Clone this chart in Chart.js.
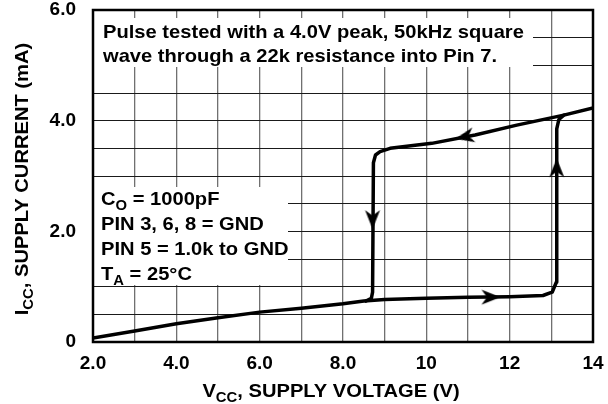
<!DOCTYPE html>
<html>
<head>
<meta charset="utf-8">
<script src="https://cdn.jsdelivr.net/npm/chart.js@4.4.1/dist/chart.umd.min.js"></script>
<style>
  html, body { margin: 0; padding: 0; background: #fff; }
  #wrap { width: 608px; height: 404px; position: relative; }
</style>
</head>
<body>
<div id="wrap"><canvas id="icc"></canvas></div>
<script>
// supply voltage (V) / supply current (mA)
// rising Vcc: along the low branch, jump up at ~13.1V, on to 14V
const forwardV = [2.0, 3.0, 4.0, 5.0, 6.0, 7.0, 8.0, 8.5, 9.0, 10.0, 11.0, 12.0, 12.8, 13.02, 13.12, 13.13, 13.18, 13.3, 14.0];
const forwardI = [0.07, 0.20, 0.33, 0.44, 0.54, 0.61, 0.69, 0.74, 0.77, 0.79, 0.81, 0.82, 0.84, 0.90, 1.08, 3.85, 4.02, 4.10, 4.23];
// falling Vcc: upper branch back to ~8.7V, then drop
const returnV = [13.3, 12.17, 11.17, 10.13, 9.13, 8.89, 8.78, 8.73, 8.71, 8.68, 8.55];
const returnI = [4.10, 3.92, 3.74, 3.59, 3.50, 3.44, 3.38, 3.24, 0.90, 0.79, 0.74];
// arrowheads on the loop
const arrowV = [10.93, 8.71, 11.54, 13.13];
const arrowI = [3.71, 2.22, 0.81, 3.14];

const xTickValues = [2, 4, 6, 8, 10, 12, 14];
const xTickLabels = ['2.0', '4.0', '6.0', '8.0', '10', '12', '14'];
const yTickValues = [0, 2, 4, 6];
const yTickLabels = ['0', '2.0', '4.0', '6.0'];

const noteTop = ['Pulse tested with a 4.0V peak, 50kHz square', 'wave through a 22k resistance into Pin 7.'];
const noteLeft = [
  [{ t: 'C' }, { t: 'O', sub: true }, { t: ' = 1000pF' }],
  [{ t: 'PIN 3, 6, 8 = GND' }],
  [{ t: 'PIN 5 = 1.0k to GND' }],
  [{ t: 'T' }, { t: 'A', sub: true }, { t: ' = 25°C' }]
];
const xTitle = [{ t: 'V' }, { t: 'CC', sub: true }, { t: ', SUPPLY VOLTAGE (V)' }];
const yTitle = [{ t: 'I' }, { t: 'CC', sub: true }, { t: ', SUPPLY CURRENT (mA)' }];

const FAMILY = '"Liberation Sans", Arial, Helvetica, sans-serif';
const SX = 1.06; // reference lettering is a touch wider than Arial

function toPts(xs, ys) {
  return xs.map((x, i) => ({ x: x, y: ys[i] }));
}

// barbed arrowhead pointing up, used as point style and rotated per point
function makeArrow() {
  const c = document.createElement('canvas');
  c.width = 18; c.height = 20;
  const g = c.getContext('2d');
  g.fillStyle = '#000';
  g.beginPath();
  g.moveTo(9, 0);
  g.lineTo(16.5, 19);
  g.lineTo(9, 13.5);
  g.lineTo(1.5, 19);
  g.closePath();
  g.fill();
  return c;
}

function richWidth(ctx, parts) {
  let w = 0;
  parts.forEach(p => {
    ctx.font = 'bold ' + (p.sub ? 14 : 19) + 'px ' + FAMILY;
    w += ctx.measureText(p.t).width;
  });
  return w;
}

function drawRich(ctx, parts, x, y) {
  ctx.save();
  ctx.translate(x, y);
  ctx.scale(SX, 1);
  ctx.fillStyle = '#000';
  ctx.textBaseline = 'alphabetic';
  ctx.textAlign = 'left';
  let cx = 0;
  parts.forEach(p => {
    ctx.font = 'bold ' + (p.sub ? 14 : 19) + 'px ' + FAMILY;
    ctx.fillText(p.t, cx, p.sub ? 5 : 0);
    cx += ctx.measureText(p.t).width;
  });
  ctx.restore();
}

const notes = {
  id: 'notes',
  beforeDatasetsDraw(chart) {
    const ctx = chart.ctx;
    const a = chart.chartArea;
    ctx.save();
    ctx.fillStyle = '#fff';
    ctx.fillRect(a.left, 18, 533 - a.left, 49);
    ctx.fillRect(a.left, 187, 288 - a.left, 98);
    ctx.restore();
    drawRich(ctx, [{ t: noteTop[0] }], 103, 38);
    drawRich(ctx, [{ t: noteTop[1] }], 103, 62);
    noteLeft.forEach((line, i) => drawRich(ctx, line, 101, 205 + i * 25));
  },
  afterDraw(chart) {
    const ctx = chart.ctx;
    const a = chart.chartArea;
    ctx.save();
    ctx.strokeStyle = '#000';
    ctx.lineWidth = 2.5;
    ctx.strokeRect(a.left, a.top, a.right - a.left, a.bottom - a.top);
    ctx.restore();

    const wx = richWidth(ctx, xTitle) * SX;
    drawRich(ctx, xTitle, 331 - wx / 2, 397);

    const wy = richWidth(ctx, yTitle) * SX;
    ctx.save();
    ctx.translate(28, 179);
    ctx.rotate(-Math.PI / 2);
    drawRich(ctx, yTitle, -wy / 2, 0);
    ctx.restore();
  }
};

new Chart(document.getElementById('icc'), {
  type: 'scatter',
  data: {
    datasets: [
      {
        data: toPts(forwardV, forwardI),
        showLine: true,
        borderColor: '#000',
        borderWidth: 3.5,
        pointRadius: 0,
        tension: 0,
        borderJoinStyle: 'round',
        borderCapStyle: 'round'
      },
      {
        data: toPts(returnV, returnI),
        showLine: true,
        borderColor: '#000',
        borderWidth: 3.5,
        pointRadius: 0,
        tension: 0,
        borderJoinStyle: 'round',
        borderCapStyle: 'round'
      },
      {
        data: toPts(arrowV, arrowI),
        showLine: false,
        pointStyle: makeArrow(),
        pointRadius: 9,
        pointRotation: [258, 180, 90, 0]
      }
    ]
  },
  options: {
    responsive: true,
    maintainAspectRatio: false,
    animation: false,
    events: [],
    layout: { padding: { left: 0, top: 7, right: 15, bottom: 0 } },
    plugins: {
      legend: { display: false },
      tooltip: { enabled: false }
    },
    scales: {
      x: {
        type: 'linear',
        min: 2,
        max: 14,
        border: { display: false },
        grid: { color: '#707070', lineWidth: 1.3, drawTicks: false },
        ticks: {
          stepSize: 1,
          autoSkip: false,
          maxRotation: 0,
          padding: 10,
          color: '#000',
          font: { family: FAMILY, size: 19, weight: 'bold' },
          callback: v => {
            const i = xTickValues.indexOf(v);
            return i >= 0 ? xTickLabels[i] : '';
          }
        },
        afterFit: s => {
          s.height = 62;
          s.paddingLeft = 0; s.paddingRight = 0;
        }
      },
      y: {
        type: 'linear',
        min: 0,
        max: 6,
        border: { display: false },
        grid: { color: '#1a1a1a', lineWidth: 1, drawTicks: false },
        ticks: {
          stepSize: 0.5,
          autoSkip: false,
          padding: 17,
          color: '#000',
          font: { family: FAMILY, size: 19, weight: 'bold' },
          callback: v => {
            const i = yTickValues.indexOf(v);
            return i >= 0 ? yTickLabels[i] : '';
          }
        },
        afterFit: s => {
          s.width = 93;
          s.paddingTop = 0; s.paddingBottom = 0;
        }
      }
    }
  },
  plugins: [notes]
});
</script>
</body>
</html>
